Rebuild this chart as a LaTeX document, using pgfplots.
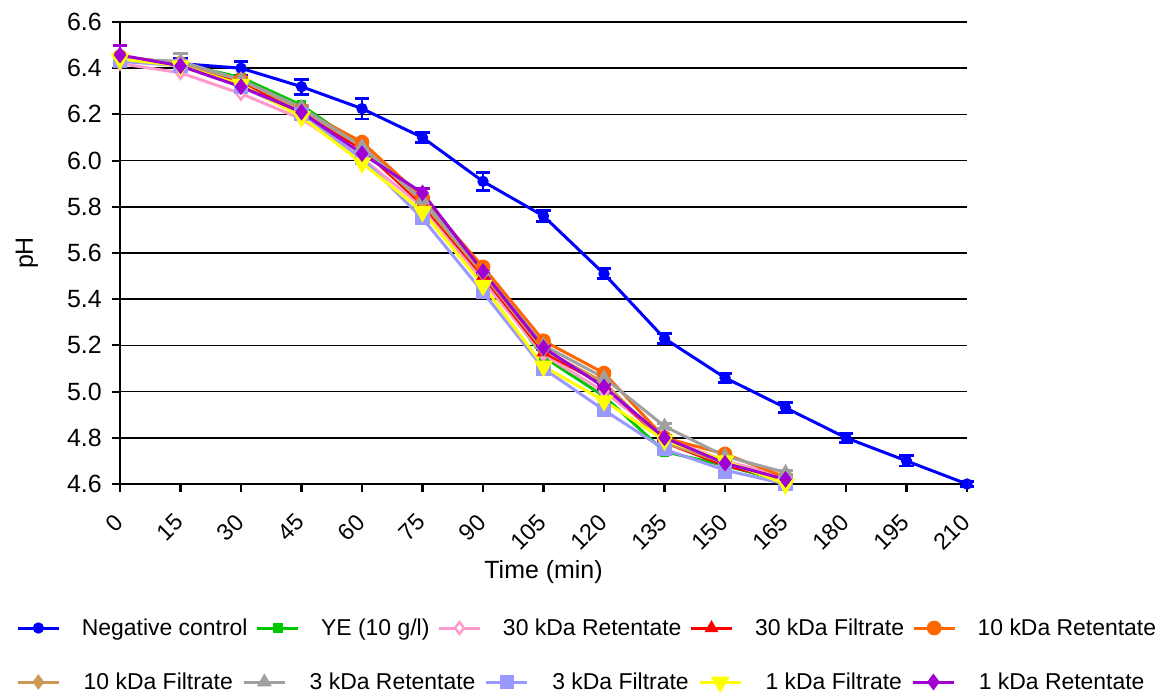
\documentclass[border=0pt]{standalone}
\usepackage{fontspec}
\setmainfont{Liberation Sans}
\usepackage{pgfplots}
\pgfplotsset{compat=1.18}
\definecolor{cBlue}{RGB}{0,0,255}
\definecolor{cGreen}{RGB}{0,200,0}
\definecolor{cPink}{RGB}{255,153,204}
\definecolor{cRed}{RGB}{255,0,0}
\definecolor{cOrange}{RGB}{255,102,0}
\definecolor{cTan}{RGB}{204,153,85}
\definecolor{cGray}{RGB}{160,160,160}
\definecolor{cLBlue}{RGB}{153,153,255}
\definecolor{cYellow}{RGB}{255,255,0}
\definecolor{cPurple}{RGB}{160,0,210}
\pgfplotsset{
  common/.style={
    scale only axis, width=635.25pt, height=346.5pt,
    xmin=0, xmax=210, ymin=4.6, ymax=6.6, clip=false,
    legend image code/.code={\draw[mark repeat=2,mark phase=2,##1] plot coordinates {(0pt,0pt) (15.4pt,0pt) (30.8pt,0pt)};},
    legend style={draw=none, fill=none, legend columns=5, inner sep=0pt, font=\fontsize{17.2}{20}\selectfont},
  },
  ser/.style={line width=2.25pt, color=#1, mark options={solid, fill=#1, draw=#1, line width=1pt}},
}
\begin{document}
\begin{tikzpicture}[font=\fontsize{18.7}{22}\selectfont]
\begin{axis}[common,
  axis x line*=bottom, axis y line*=left,
  axis line style={line width=1.6pt, -},
  xtick={0,15,30,45,60,75,90,105,120,135,150,165,180,195,210},
  ytick={4.6,4.8,5.0,5.2,5.4,5.6,5.8,6.0,6.2,6.4,6.6},
  tick align=outside, major tick length=6pt,
  tick style={line width=1.6pt, black},
  ymajorgrids, grid style={line width=1.1pt, black},
  /pgf/number format/assume math mode=true,
  yticklabel style={xshift=-4.2pt, font=\fontsize{18.7}{22}\selectfont, /pgf/number format/fixed, /pgf/number format/fixed zerofill, /pgf/number format/precision=1},
  xticklabel style={xshift=-5.5pt, yshift=-15pt, rotate=45, anchor=north east, inner sep=0pt, font=\fontsize{17.5}{21}\selectfont},
  xlabel={Time (min)}, ylabel={pH},
  xlabel style={at={(axis description cs:0.5,-0.19)}, anchor=center},
  ylabel style={at={(axis description cs:-0.11,0.5)}, anchor=center},
  legend style={at={(axis description cs:-0.1227,-0.3117)}, anchor=west,
      /tikz/every odd column/.append style={column sep=14.1pt},
      /tikz/every even column/.append style={column sep=4pt}},
  error bars/error bar style={line width=2pt},
  error bars/error mark options={rotate=90, mark size=5.6pt, line width=2.2pt},
]
\addplot[ser=cBlue, mark=*, mark size=3.75pt,
  error bars/.cd, y dir=both, y explicit] coordinates {
 (0,6.44) +- (0,0.02) (15,6.42) +- (0,0.02) (30,6.40) +- (0,0.03) (45,6.32) +- (0,0.033)
 (60,6.225) +- (0,0.045) (75,6.10) +- (0,0.022) (90,5.91) +- (0,0.04) (105,5.76) +- (0,0.022)
 (120,5.51) +- (0,0.022) (135,5.23) +- (0,0.02) (150,5.06) +- (0,0.02) (165,4.93) +- (0,0.022)
 (180,4.80) +- (0,0.02) (195,4.70) +- (0,0.022) (210,4.60) +- (0,0.01)};
\addlegendentry{Negative control}
\addplot[ser=cGreen, mark=square*, mark size=3.2pt] coordinates {
 (0,6.44) (15,6.42) (30,6.36) (45,6.24) (60,6.06) (75,5.82) (90,5.50) (105,5.15) (120,4.98) (135,4.74) (150,4.68) (165,4.61)};
\addlegendentry{YE (10 g/l)}
\addplot[ser=cPink, mark=diamond*, mark size=4.5pt, mark options={fill=white, draw=cPink, line width=1.8pt}] coordinates {
 (0,6.42) (15,6.38) (30,6.29) (45,6.18) (60,6.01) (75,5.80) (90,5.48) (105,5.16) (120,5.00) (135,4.80) (150,4.70) (165,4.63)};
\addlegendentry{30 kDa Retentate}
\addplot[ser=cRed, mark=triangle*, mark size=5pt] coordinates {
 (0,6.45) (15,6.42) (30,6.34) (45,6.21) (60,6.05) (75,5.81) (90,5.50) (105,5.17) (120,5.03) (135,4.78) (150,4.68) (165,4.62)};
\addlegendentry{30 kDa Filtrate}
\addplot[ser=cOrange, mark=*, mark size=5pt] coordinates {
 (0,6.45) (15,6.42) (30,6.35) (45,6.22) (60,6.08) (75,5.84) (90,5.54) (105,5.22) (120,5.08) (135,4.80) (150,4.73) (165,4.63)};
\addlegendentry{10 kDa Retentate}
\addplot[ser=cTan, mark=diamond*, mark size=5pt, forget plot] coordinates {
 (0,6.44) (15,6.42) (30,6.35) (45,6.22) (60,6.06) (75,5.82) (90,5.51) (105,5.18) (120,5.04) (135,4.78) (150,4.69) (165,4.62)};
\addplot[ser=cGray, mark=triangle*, mark size=5.5pt, forget plot,
  error bars/.cd, y dir=both, y explicit] coordinates {
 (0,6.44) +- (0,0.01) (15,6.43) +- (0,0.035) (30,6.35) +- (0,0.01) (45,6.23) +- (0,0.01) (60,6.06) +- (0,0.01)
 (75,5.83) +- (0,0.01) (90,5.52) +- (0,0.01) (105,5.20) +- (0,0.01) (120,5.06) +- (0,0.01)
 (135,4.85) +- (0,0.01) (150,4.72) +- (0,0.01) (165,4.65) +- (0,0.01)};
\addplot[ser=cLBlue, mark=square*, mark size=4.8pt, forget plot,
  error bars/.cd, y dir=both, y explicit] coordinates {
 (0,6.43) +- (0,0.01) (15,6.41) +- (0,0.01) (30,6.32) +- (0,0.02) (45,6.20) +- (0,0.01) (60,6.01) +- (0,0.01)
 (75,5.75) +- (0,0.02) (90,5.43) +- (0,0.01) (105,5.10) +- (0,0.01) (120,4.92) +- (0,0.02)
 (135,4.75) +- (0,0.02) (150,4.66) +- (0,0.03) (165,4.60) +- (0,0.01)};
\addplot[ser=cYellow, mark=triangle*, mark size=6pt, mark options={rotate=180}, forget plot] coordinates {
 (0,6.44) (15,6.41) (30,6.33) (45,6.19) (60,5.99) (75,5.78) (90,5.46) (105,5.11) (120,4.96) (135,4.79) (150,4.70) (165,4.60)};
\addplot[ser=cPurple, mark=diamond*, mark size=5.5pt, forget plot,
  error bars/.cd, y dir=both, y explicit] coordinates {
 (0,6.457) +- (0,0.043) (15,6.41) +- (0,0.01) (30,6.32) +- (0,0.02) (45,6.21) +- (0,0.01) (60,6.03) +- (0,0.01)
 (75,5.86) +- (0,0.02) (90,5.52) +- (0,0.01) (105,5.19) +- (0,0.01) (120,5.02) +- (0,0.01)
 (135,4.80) +- (0,0.01) (150,4.69) +- (0,0.01) (165,4.62) +- (0,0.01)};
\end{axis}
\begin{axis}[common, hide axis,
  legend style={at={(axis description cs:-0.1227,-0.4286)}, anchor=west,
      /tikz/every odd column/.append style={column sep=15.5pt},
      /tikz/every even column/.append style={column sep=5.1pt}}]
\addlegendimage{ser=cTan, mark=diamond*, mark size=5pt}
\addlegendentry{10 kDa Filtrate}
\addlegendimage{ser=cGray, mark=triangle*, mark size=5.5pt}
\addlegendentry{3 kDa Retentate}
\addlegendimage{ser=cLBlue, mark=square*, mark size=4.8pt}
\addlegendentry{3 kDa Filtrate}
\addlegendimage{ser=cYellow, mark=triangle*, mark size=6pt, mark options={rotate=180}}
\addlegendentry{1 kDa Filtrate}
\addlegendimage{ser=cPurple, mark=diamond*, mark size=5.5pt}
\addlegendentry{1 kDa Retentate}
\end{axis}
\pgfresetboundingbox
\path[use as bounding box] (-90pt,-156.75pt) rectangle (779.25pt,363pt);
\end{tikzpicture}
\end{document}
